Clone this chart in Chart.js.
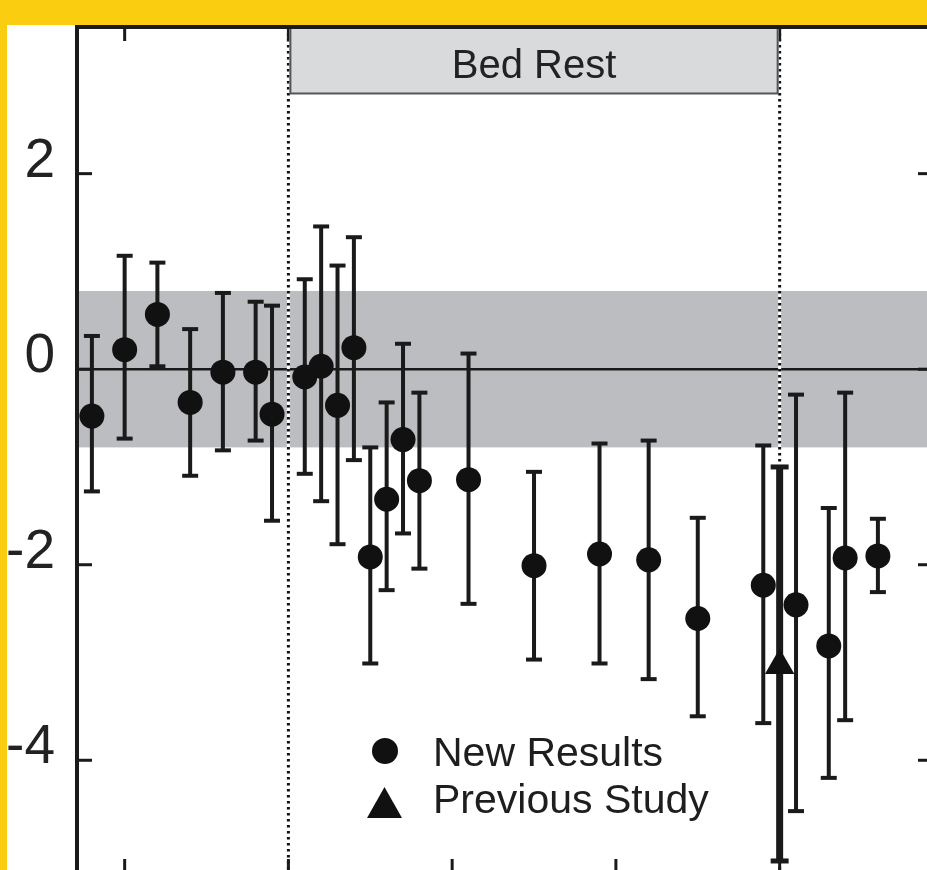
<!DOCTYPE html>
<html>
<head>
<meta charset="utf-8">
<script src="https://cdn.jsdelivr.net/npm/chart.js@4.4.1/dist/chart.umd.min.js"></script>
<style>
  html, body { margin: 0; padding: 0; overflow: hidden; background: #fbcd11; }
  #paper { position: absolute; left: 7px; top: 25px; width: 940px; height: 870px; background: #fff; }
  #c { position: absolute; left: 0; top: 0; }
</style>
</head>
<body>
<div id="paper"></div>
<canvas id="c" width="950" height="890"></canvas>
<script>
/* ── data (days relative to start of bed rest) ─────────────────────────── */
const days      = [-24, -20, -16, -12, -8, -4, -2, 2, 4, 6, 8, 10, 12, 14, 16, 22, 30, 38, 44, 50, 58, 62, 66, 68, 72];
const newMean   = [-0.48, 0.2, 0.56, -0.34, -0.03, -0.03, -0.46, -0.08, 0.03, -0.37, 0.22, -1.92, -1.33, -0.72, -1.14, -1.13, -2.01, -1.89, -1.95, -2.55, -2.21, -2.41, -2.83, -1.93, -1.91];
const newUpper  = [0.34, 1.16, 1.09, 0.41, 0.78, 0.69, 0.65, 0.92, 1.46, 1.06, 1.35, -0.8, -0.34, 0.26, -0.24, 0.16, -1.05, -0.76, -0.73, -1.52, -0.78, -0.26, -1.42, -0.24, -1.53];
const newLower  = [-1.25, -0.71, 0.03, -1.09, -0.83, -0.73, -1.55, -1.07, -1.35, -1.79, -0.93, -3.01, -2.26, -1.68, -2.04, -2.4, -2.97, -3.01, -3.17, -3.55, -3.62, -4.52, -4.18, -3.59, -2.28];

const prevDays  = [60];
const prevMean  = [-3.03];
const prevUpper = [-1.0];
const prevLower = [-5.03];

const xTicks  = [-20, 0, 20, 40, 60, 80];
const yTicks  = [-4, -2, 0, 2];
const bedRest = [0, 60];
const refBand = [-0.8, 0.8];

const FONT = '"Liberation Sans", Arial, Helvetica, sans-serif';
const INK = '#1a1a1a';

function seg(ctx, x1, y1, x2, y2) {
  ctx.beginPath(); ctx.moveTo(x1, y1); ctx.lineTo(x2, y2); ctx.stroke();
}

function drawBars(ctx, x, y, xs, hi, lo, width, cap, capWidth) {
  ctx.strokeStyle = INK;
  xs.forEach((d, i) => {
    const px = x.getPixelForValue(d);
    const pt = y.getPixelForValue(hi[i]);
    const pb = y.getPixelForValue(lo[i]);
    ctx.lineWidth = width;
    seg(ctx, px, pt, px, pb);
    ctx.lineWidth = capWidth;
    seg(ctx, px - cap, pt, px + cap, pt);
    seg(ctx, px - cap, pb, px + cap, pb);
  });
}

const decor = {
  id: 'decor',
  beforeDatasetsDraw(chart) {
    const { ctx, chartArea: a, scales: { x, y } } = chart;
    ctx.save();
    ctx.beginPath(); ctx.rect(a.left, a.top, a.right - a.left, a.bottom - a.top); ctx.clip();

    // reference band
    const bt = y.getPixelForValue(refBand[1]), bb = y.getPixelForValue(refBand[0]);
    ctx.fillStyle = '#bcbdc0';
    ctx.fillRect(a.left, bt, a.right - a.left, bb - bt);

    // zero line
    const y0 = y.getPixelForValue(0);
    ctx.strokeStyle = INK; ctx.lineWidth = 2.5;
    seg(ctx, a.left, y0, a.right, y0);

    // bed rest limits (dotted)
    bedRest.forEach(d => {
      const px = x.getPixelForValue(d);
      ctx.setLineDash([]); ctx.strokeStyle = '#fff'; ctx.lineWidth = 3;
      seg(ctx, px, a.top, px, a.bottom);
      ctx.setLineDash([2.5, 3.5]); ctx.strokeStyle = '#111';
      seg(ctx, px, a.top, px, a.bottom);
    });
    ctx.setLineDash([]);

    // inward ticks
    ctx.strokeStyle = INK; ctx.lineWidth = 3;
    xTicks.forEach(v => {
      const px = x.getPixelForValue(v);
      seg(ctx, px, a.top, px, a.top + 14);
      seg(ctx, px, a.bottom, px, a.bottom - 14);
    });
    yTicks.forEach(v => {
      const py = y.getPixelForValue(v);
      seg(ctx, a.left, py, a.left + 15, py);
      seg(ctx, a.right, py, a.right - 15, py);
    });

    // Bed Rest box
    const bx0 = x.getPixelForValue(bedRest[0]), bx1 = x.getPixelForValue(bedRest[1]);
    const by1 = y.getPixelForValue(2.82);
    ctx.fillStyle = '#d9dadc';
    ctx.fillRect(bx0 + 1, a.top, bx1 - bx0 - 2, by1 - a.top);
    ctx.strokeStyle = '#555'; ctx.lineWidth = 2;
    ctx.strokeRect(bx0 + 2, a.top, bx1 - bx0 - 4, by1 - a.top);
    ctx.fillStyle = '#222';
    ctx.font = '40px ' + FONT;
    ctx.textAlign = 'center'; ctx.textBaseline = 'alphabetic';
    ctx.fillText('Bed Rest', (bx0 + bx1) / 2, by1 - 15);

    // error bars
    drawBars(ctx, x, y, days, newUpper, newLower, 4, 8, 4);
    drawBars(ctx, x, y, prevDays, prevUpper, prevLower, 7, 9, 5);
    ctx.restore();
  },
  afterDraw(chart) {
    const { ctx, chartArea: a } = chart;
    ctx.save();
    // frame
    ctx.strokeStyle = INK; ctx.lineWidth = 4;
    ctx.strokeRect(a.left, a.top, a.right - a.left, a.bottom - a.top);

    // legend
    ctx.fillStyle = '#111';
    ctx.beginPath(); ctx.arc(385, 751, 13, 0, Math.PI * 2); ctx.fill();
    ctx.beginPath(); ctx.moveTo(384.5, 787); ctx.lineTo(402, 818); ctx.lineTo(367, 818); ctx.closePath(); ctx.fill();
    ctx.fillStyle = '#1e1e1e';
    ctx.font = '41px ' + FONT;
    ctx.textAlign = 'left'; ctx.textBaseline = 'alphabetic';
    ctx.fillText('New Results', 433, 766);
    ctx.fillText('Previous Study', 433, 813);
    ctx.restore();
  }
};

new Chart(document.getElementById('c'), {
  type: 'scatter',
  data: {
    datasets: [
      {
        label: 'Previous Study',
        data: prevDays.map((d, i) => ({ x: d, y: prevMean[i] })),
        pointStyle: 'triangle',
        pointRadius: 17,
        pointBackgroundColor: '#111',
        pointBorderWidth: 0,
      },
      {
        label: 'New Results',
        data: days.map((d, i) => ({ x: d, y: newMean[i] })),
        pointStyle: 'circle',
        pointRadius: 12.5,
        pointBackgroundColor: '#111',
        pointBorderWidth: 0,
      }
    ]
  },
  options: {
    responsive: false,
    devicePixelRatio: 1,
    animation: false,
    layout: { padding: { top: 27, right: 14, bottom: 10, left: 0 } },
    plugins: { legend: { display: false }, tooltip: { enabled: false } },
    scales: {
      x: {
        type: 'linear',
        min: -25.82, max: 78.73,
        grid: { display: false, drawTicks: false },
        border: { display: false },
        ticks: { display: false },
        afterFit: s => { s.height = 0; s.paddingLeft = 0; s.paddingRight = 0; }
      },
      y: {
        type: 'linear',
        min: -5.153, max: 3.5,
        grid: { display: false, drawTicks: false },
        border: { display: false },
        afterBuildTicks: s => { s.ticks = yTicks.map(v => ({ value: v })); },
        ticks: {
          color: '#222',
          padding: 22,
          labelOffset: -12,
          font: { family: FONT, size: 55 },
          callback: v => String(v)
        },
        afterFit: s => { s.width = 77; s.paddingTop = 0; s.paddingBottom = 0; }
      }
    }
  },
  plugins: [decor]
});
</script>
</body>
</html>
